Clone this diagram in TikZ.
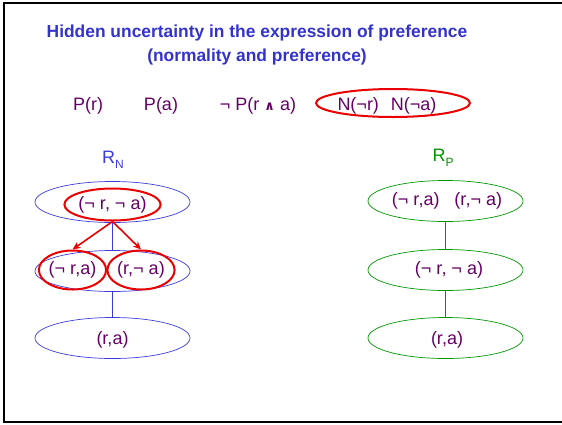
\documentclass[tikz,border=0pt]{standalone}
\usepackage{fontspec}
\setmainfont{Liberation Sans}
\newfontfamily\symfont{DejaVu Sans}
\usetikzlibrary{arrows.meta, positioning, shapes.geometric}
\definecolor{titleblue}{RGB}{51,51,204}
\definecolor{txtpurple}{RGB}{102,0,102}
\definecolor{relblue}{RGB}{60,60,220}
\definecolor{relgreen}{RGB}{0,150,0}
\definecolor{markred}{RGB}{235,0,0}
\newcommand{\relname}[2]{R\raisebox{-0.3em}{\fontsize{12}{12}\selectfont #2}}

\begin{document}
\begin{tikzpicture}[x=1pt, y=-1pt,
    txt/.style={text=txtpurple, font=\fontsize{18}{21}\selectfont, inner sep=0pt},
    blueell/.style={ellipse, draw=relblue, line width=0.7pt, minimum width=155pt, minimum height=41pt, inner sep=0pt},
    greenell/.style={ellipse, draw=relgreen, line width=0.7pt, minimum width=155pt, minimum height=41pt, inner sep=0pt},
    redring/.style={ellipse, draw=markred, line width=2pt, inner sep=0pt},
    redarrow/.style={draw=markred, line width=1.6pt, -{Stealth[length=8pt, width=7pt]}}
]
    \useasboundingbox (0,0) rectangle (562,424);
    % cadre
    \draw[line width=2.5pt] (562,3) -- (4,3) -- (4,422) -- (562,422);

    % titre
    \node[text=titleblue, font=\bfseries\fontsize{17.4}{24}\selectfont, align=center] (title) at (257,45)
        {Hidden uncertainty in the expression of preference\\(normality and preference)};

    % formules
    \node[txt] (pr) at (88,106) {P(r)};
    \node[txt] (pa) at (161,106) {P(a)};
    \node[txt] (pnra) at (258,106) {¬ P(r {\symfont\bfseries\fontsize{13}{13}\selectfont ∧} a)};
    \node[txt] (nn) at (387,106) {N(¬r)\hspace{12pt}N(¬a)};
    \node[redring, minimum width=154pt, minimum height=28pt] (nnring) at (393,103) {};

    % R_N
    \node[text=relblue, font=\fontsize{18}{21}\selectfont] (rn) at (113,160) {\relname{R}{N}};
    \node[blueell] (nTop) at (112.5,202) {};
    \node[blueell] (nMid) at (112.5,271) {};
    \node[blueell] (nBot) at (112.5,338) {};
    \node[txt] (nBotT) at (112.5,340) {(r,a)};
    \node[redring, txt, draw=markred, minimum width=91pt, minimum height=32pt] (nTopR) at (112.5,204.5) {(¬ r, ¬ a)};
    \node[redring, txt, draw=markred, minimum width=55pt, minimum height=39pt] (nLeftR) at (72.5,270) {(¬ r,a)};
    \node[redring, txt, draw=markred, minimum width=62pt, minimum height=39pt] (nRightR) at (141,270) {(r,¬ a)};
    \draw[relblue, line width=0.7pt] (nTop.south) -- (nMid.north);
    \draw[relblue, line width=0.7pt] (nMid.south) -- (nBot.north);
    \draw[redarrow] (nTopR.south) -- (nLeftR.north);
    \draw[redarrow] (nTopR.south) -- (nRightR.north);

    % R_P
    \node[text=relgreen, font=\fontsize{18}{21}\selectfont] (rp) at (443,158) {\relname{R}{P}};
    \node[greenell] (pTop) at (445.5,201) {};
    \node[greenell] (pMid) at (445.5,270) {};
    \node[greenell] (pBot) at (445.5,338) {};
    \node[txt] (pTopT) at (447,201) {(¬ r,a)\hspace{15pt}(r,¬ a)};
    \node[txt] (pMidT) at (449,270) {(¬ r, ¬ a)};
    \node[txt] (pBotT) at (447,340) {(r,a)};
    \draw[relgreen, line width=0.7pt] (pTop.south) -- (pMid.north);
    \draw[relgreen, line width=0.7pt] (pMid.south) -- (pBot.north);
\end{tikzpicture}
\end{document}
